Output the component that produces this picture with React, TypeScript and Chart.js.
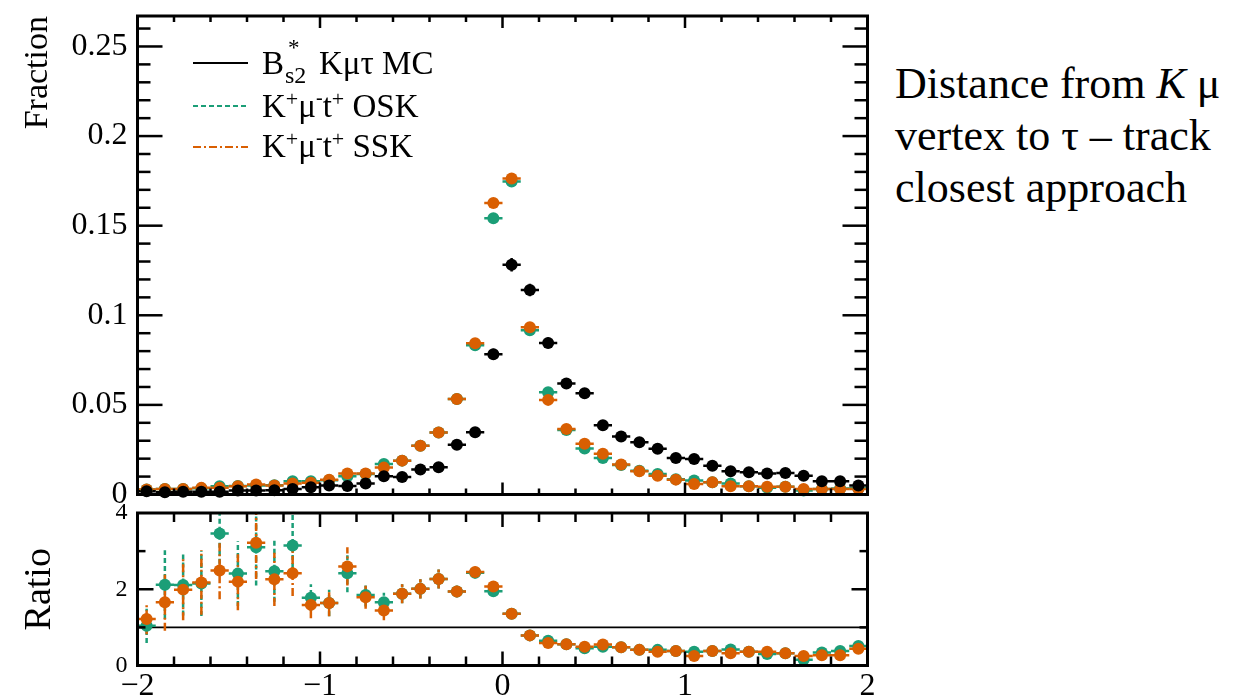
import React, { useEffect, useRef } from "react";
import { Chart, registerables } from "chart.js";

Chart.register(...registerables);

const SERIF = "'Liberation Serif', 'DejaVu Serif', serif";
const GREEN = "#1b9e77";
const ORANGE = "#d95f02";
const BLACK = "#000000";

// bin centres (bin width 0.1)
const binCenters = [
  -1.95, -1.85, -1.75, -1.65, -1.55, -1.45, -1.35, -1.25, -1.15, -1.05,
  -0.95, -0.85, -0.75, -0.65, -0.55, -0.45, -0.35, -0.25, -0.15, -0.05,
  0.05, 0.15, 0.25, 0.35, 0.45, 0.55, 0.65, 0.75, 0.85, 0.95,
  1.05, 1.15, 1.25, 1.35, 1.45, 1.55, 1.65, 1.75, 1.85, 1.95,
];
const binHalfWidth = 0.05;

// Fraction, B*s2 K mu tau MC
const fracMC = [
  0.0018, 0.0013, 0.0015, 0.0015, 0.0015, 0.0022, 0.0022, 0.0024, 0.0031, 0.0041,
  0.005, 0.0048, 0.0061, 0.0102, 0.0098, 0.0139, 0.0152, 0.0278, 0.0348, 0.0783,
  0.1282, 0.1141, 0.0846, 0.062, 0.0565, 0.0387, 0.0324, 0.0291, 0.0255, 0.0204,
  0.0198, 0.0161, 0.013, 0.0124, 0.0117, 0.012, 0.0105, 0.0074, 0.0074, 0.005,
];
const errMC = [
  0.0006, 0.0005, 0.0005, 0.0005, 0.0005, 0.0006, 0.0006, 0.0006, 0.0007, 0.0008,
  0.0009, 0.0009, 0.001, 0.0012, 0.0012, 0.0014, 0.0015, 0.002, 0.0022, 0.003,
  0.0038, 0.0035, 0.003, 0.0025, 0.0024, 0.002, 0.0018, 0.0017, 0.0016, 0.0014,
  0.0014, 0.0013, 0.0011, 0.0011, 0.0011, 0.0011, 0.001, 0.0009, 0.0009, 0.0007,
];

// Fraction, K+ mu- t+ OSK
const fracOSK = [
  0.0028, 0.0031, 0.0031, 0.0035, 0.0046, 0.0048, 0.005, 0.0052, 0.0074, 0.0074,
  0.008, 0.0102, 0.0115, 0.017, 0.0189, 0.0272, 0.0346, 0.0533, 0.0833, 0.1541,
  0.1746, 0.0917, 0.057, 0.036, 0.0256, 0.0204, 0.0165, 0.0133, 0.0115, 0.0085,
  0.0078, 0.0068, 0.0062, 0.0046, 0.0037, 0.0043, 0.0022, 0.003, 0.0033, 0.0035,
];
const errOSK = [
  0.0004, 0.0004, 0.0004, 0.0005, 0.0005, 0.0005, 0.0005, 0.0005, 0.0006, 0.0006,
  0.0006, 0.0007, 0.0008, 0.0009, 0.001, 0.0011, 0.0012, 0.0015, 0.0018, 0.0024,
  0.0025, 0.0018, 0.0014, 0.0011, 0.001, 0.0009, 0.0008, 0.0007, 0.0007, 0.0006,
  0.0006, 0.0005, 0.0005, 0.0005, 0.0004, 0.0004, 0.0003, 0.0004, 0.0004, 0.0004,
];

// Fraction, K+ mu- t+ SSK
const fracSSK = [
  0.0028, 0.0031, 0.0031, 0.0037, 0.0037, 0.0046, 0.0056, 0.005, 0.0061, 0.0065,
  0.0083, 0.0117, 0.0117, 0.015, 0.0189, 0.0272, 0.0346, 0.0533, 0.0844, 0.1626,
  0.1763, 0.0933, 0.0528, 0.0365, 0.0283, 0.0228, 0.0167, 0.013, 0.0105, 0.0083,
  0.0059, 0.0068, 0.0046, 0.0046, 0.0043, 0.0043, 0.0031, 0.003, 0.003, 0.003,
];
const errSSK = [
  0.0004, 0.0004, 0.0004, 0.0005, 0.0005, 0.0005, 0.0005, 0.0005, 0.0006, 0.0006,
  0.0007, 0.0008, 0.0008, 0.0009, 0.001, 0.0011, 0.0012, 0.0015, 0.0018, 0.0025,
  0.0026, 0.0019, 0.0014, 0.0011, 0.001, 0.0009, 0.0008, 0.0007, 0.0007, 0.0006,
  0.0005, 0.0005, 0.0005, 0.0005, 0.0004, 0.0004, 0.0004, 0.0004, 0.0004, 0.0004,
];

// Ratio panel
const ratioOSK = [
  1.04, 2.12, 2.11, 2.15, 3.46, 2.41, 3.1, 2.47, 3.15, 1.78,
  1.64, 2.42, 1.85, 1.66, 1.88, 2.01, 2.27, 1.94, 2.43, 1.95,
  1.36, 0.79, 0.65, 0.56, 0.45, 0.49, 0.48, 0.41, 0.41, 0.38,
  0.36, 0.38, 0.42, 0.36, 0.3, 0.32, 0.15, 0.34, 0.38, 0.51,
];
const ratioErrOSK = [
  0.45, 0.9, 0.8, 0.85, 1.0, 0.85, 1.0, 0.8, 0.8, 0.35,
  0.35, 0.5, 0.3, 0.25, 0.25, 0.25, 0.25, 0.15, 0.15, 0.1,
  0.05, 0.04, 0.04, 0.04, 0.04, 0.05, 0.05, 0.05, 0.05, 0.05,
  0.06, 0.06, 0.07, 0.07, 0.07, 0.08, 0.06, 0.09, 0.1, 0.12,
];
const ratioSSK = [
  1.22, 1.66, 1.99, 2.18, 2.49, 2.2, 3.22, 2.26, 2.42, 1.59,
  1.64, 2.6, 1.79, 1.44, 1.88, 2.01, 2.27, 1.94, 2.45, 2.07,
  1.36, 0.79, 0.59, 0.56, 0.49, 0.55, 0.48, 0.41, 0.36, 0.38,
  0.25, 0.38, 0.32, 0.36, 0.36, 0.32, 0.25, 0.27, 0.27, 0.44,
];
const ratioErrSSK = [
  0.4, 0.75, 0.8, 0.85, 0.75, 0.75, 0.95, 0.7, 0.6, 0.35,
  0.35, 0.5, 0.3, 0.25, 0.25, 0.25, 0.25, 0.15, 0.15, 0.1,
  0.05, 0.04, 0.04, 0.04, 0.04, 0.05, 0.05, 0.05, 0.05, 0.05,
  0.05, 0.06, 0.06, 0.07, 0.07, 0.08, 0.07, 0.08, 0.09, 0.11,
];

const ratioReference = 1;

const GREEN_DASH = [5, 3];
const ORANGE_DASH = [8, 3, 2, 3];
const MARKER_RADIUS = 6;

function toPoints(values: number[]) {
  return binCenters.map((x, i) => ({ x, y: values[i] }));
}

const errorBarPlugin = {
  id: "errorBars",
  beforeDatasetsDraw(chart: any) {
    const { ctx, chartArea: a, scales } = chart;
    const xs = scales.x;
    const ys = scales.y;
    ctx.save();
    ctx.beginPath();
    ctx.rect(a.left, a.top, a.right - a.left, a.bottom - a.top);
    ctx.clip();
    const dsets = chart.data.datasets;
    for (let d = dsets.length - 1; d >= 0; d--) {
      const ds = dsets[d];
      ctx.strokeStyle = ds.borderColor;
      ctx.lineWidth = 2.5;
      ds.data.forEach((p: any, i: number) => {
        const px = xs.getPixelForValue(p.x);
        const py = ys.getPixelForValue(p.y);
        ctx.setLineDash([]);
        ctx.beginPath();
        ctx.moveTo(xs.getPixelForValue(p.x - binHalfWidth), py);
        ctx.lineTo(xs.getPixelForValue(p.x + binHalfWidth), py);
        ctx.stroke();
        const e = ds.yErr[i];
        ctx.setLineDash(ds.errDash || []);
        ctx.beginPath();
        ctx.moveTo(px, ys.getPixelForValue(p.y - e));
        ctx.lineTo(px, ys.getPixelForValue(p.y + e));
        ctx.stroke();
      });
    }
    ctx.restore();
  },
};

const refLinePlugin = {
  id: "refLine",
  beforeDatasetsDraw(chart: any, _args: any, opts: any) {
    if (opts == null || opts.value == null) return;
    const { ctx, chartArea: a, scales } = chart;
    const py = scales.y.getPixelForValue(opts.value);
    ctx.save();
    ctx.strokeStyle = "#000";
    ctx.lineWidth = 1.8;
    ctx.beginPath();
    ctx.moveTo(a.left, py);
    ctx.lineTo(a.right, py);
    ctx.stroke();
    ctx.restore();
  },
};

function isMultiple(v: number, step: number) {
  const r = v / step;
  return Math.abs(r - Math.round(r)) < 1e-6;
}

const framePlugin = {
  id: "frame",
  afterDraw(chart: any, _args: any, o: any) {
    const { ctx, chartArea: a, scales } = chart;
    const xs = scales.x;
    const ys = scales.y;
    ctx.save();
    ctx.strokeStyle = "#000";
    ctx.lineWidth = 2.5;
    ctx.setLineDash([]);
    const line = (x1: number, y1: number, x2: number, y2: number) => {
      ctx.beginPath();
      ctx.moveTo(x1, y1);
      ctx.lineTo(x2, y2);
      ctx.stroke();
    };
    const nx = Math.round((xs.max - xs.min) / o.xMinor);
    for (let k = 1; k < nx; k++) {
      const v = xs.min + k * o.xMinor;
      const L = isMultiple(v, o.xMajor) ? o.xMajorLen : o.xMinorLen;
      const px = xs.getPixelForValue(v);
      line(px, a.bottom, px, a.bottom - L);
      line(px, a.top, px, a.top + L);
    }
    const ny = Math.floor((ys.max - ys.min) / o.yMinor + 1e-6);
    for (let k = 1; k <= ny; k++) {
      const v = ys.min + k * o.yMinor;
      if (v >= ys.max - 1e-9) continue;
      const L = isMultiple(v, o.yMajor) ? o.yMajorLen : o.yMinorLen;
      const py = ys.getPixelForValue(v);
      line(a.left, py, a.left + L, py);
      line(a.right, py, a.right - L, py);
    }
    ctx.lineWidth = 3;
    ctx.strokeRect(a.left, a.top, a.right - a.left, a.bottom - a.top);
    ctx.restore();
  },
};

const PLOT_LEFT = 137.5;
const PLOT_RIGHT_PAD = 22.5;

export default function App() {
  const mainRef = useRef<HTMLCanvasElement | null>(null);
  const ratioRef = useRef<HTMLCanvasElement | null>(null);

  useEffect(() => {
    document.body.style.margin = "0";
    const mainChart = new Chart(mainRef.current as HTMLCanvasElement, {
      type: "scatter",
      data: {
        datasets: [
          {
            label: "B*s2 Kμτ MC",
            data: toPoints(fracMC),
            backgroundColor: BLACK,
            borderColor: BLACK,
            pointRadius: MARKER_RADIUS,
            pointBorderWidth: 0,
            clip: false,
            yErr: errMC,
          } as any,
          {
            label: "K+μ-t+ SSK",
            data: toPoints(fracSSK),
            backgroundColor: ORANGE,
            borderColor: ORANGE,
            pointRadius: MARKER_RADIUS,
            pointBorderWidth: 0,
            clip: false,
            yErr: errSSK,
          } as any,
          {
            label: "K+μ-t+ OSK",
            data: toPoints(fracOSK),
            backgroundColor: GREEN,
            borderColor: GREEN,
            pointRadius: MARKER_RADIUS,
            pointBorderWidth: 0,
            clip: false,
            yErr: errOSK,
          } as any,
        ],
      },
      options: {
        responsive: false,
        animation: false,
        devicePixelRatio: 1,
        events: [],
        layout: { padding: { left: 0, right: PLOT_RIGHT_PAD, top: 36, bottom: 35.5 } },
        plugins: {
          legend: { display: false },
          tooltip: { enabled: false },
          frame: {
            xMinor: 0.2, xMajor: 1, xMajorLen: 12, xMinorLen: 6,
            yMinor: 0.01, yMajor: 0.05, yMajorLen: 25, yMinorLen: 13,
          },
        } as any,
        scales: {
          x: { type: "linear", min: -2, max: 2, display: false },
          y: {
            type: "linear",
            min: 0,
            max: 0.267,
            afterFit: (s: any) => { s.width = PLOT_LEFT; },
            grid: { display: false, drawTicks: false },
            border: { display: false },
            ticks: {
              stepSize: 0.05,
              includeBounds: false,
              padding: 10,
              color: "#000",
              font: { family: SERIF, size: 32 },
              callback: (v: any) => (Math.abs(v) < 1e-9 ? "0" : String(parseFloat(Number(v).toFixed(2)))),
            },
            title: {
              display: true,
              text: "Fraction",
              align: "end",
              color: "#000",
              font: { family: SERIF, size: 34 },
              padding: { top: 18, bottom: 0 },
            },
          },
        },
      } as any,
      plugins: [errorBarPlugin, framePlugin],
    });

    const ratioChart = new Chart(ratioRef.current as HTMLCanvasElement, {
      type: "scatter",
      data: {
        datasets: [
          {
            label: "SSK / MC",
            data: toPoints(ratioSSK),
            backgroundColor: ORANGE,
            borderColor: ORANGE,
            pointRadius: MARKER_RADIUS,
            pointBorderWidth: 0,
            clip: false,
            yErr: ratioErrSSK,
            errDash: ORANGE_DASH,
          } as any,
          {
            label: "OSK / MC",
            data: toPoints(ratioOSK),
            backgroundColor: GREEN,
            borderColor: GREEN,
            pointRadius: MARKER_RADIUS,
            pointBorderWidth: 0,
            clip: false,
            yErr: ratioErrOSK,
            errDash: GREEN_DASH,
          } as any,
        ],
      },
      options: {
        responsive: false,
        animation: false,
        devicePixelRatio: 1,
        events: [],
        layout: { padding: { left: 0, right: PLOT_RIGHT_PAD, top: 33, bottom: 0 } },
        plugins: {
          legend: { display: false },
          tooltip: { enabled: false },
          refLine: { value: ratioReference },
          frame: {
            xMinor: 0.2, xMajor: 1, xMajorLen: 14, xMinorLen: 9,
            yMinor: 1, yMajor: 2, yMajorLen: 16, yMinorLen: 8,
          },
        } as any,
        scales: {
          x: {
            type: "linear",
            min: -2,
            max: 2,
            afterFit: (s: any) => { s.height = 32.5; },
            grid: { display: false, drawTicks: false },
            border: { display: false },
            ticks: {
              stepSize: 1,
              padding: 2,
              maxRotation: 0,
              autoSkip: false,
              color: "#000",
              font: { family: SERIF, size: 32 },
              callback: (v: any) => (v < 0 ? "\u2212" + Math.abs(v) : String(v)),
            },
          },
          y: {
            type: "linear",
            min: 0,
            max: 4,
            afterFit: (s: any) => { s.width = PLOT_LEFT; },
            grid: { display: false, drawTicks: false },
            border: { display: false },
            ticks: {
              stepSize: 2,
              padding: 10,
              color: "#000",
              font: { family: SERIF, size: 24 },
            },
            title: {
              display: true,
              text: "Ratio",
              color: "#000",
              font: { family: SERIF, size: 38 },
              padding: { top: 17, bottom: 0 },
            },
          },
        },
      } as any,
      plugins: [refLinePlugin, errorBarPlugin, framePlugin],
    });

    return () => {
      mainChart.destroy();
      ratioChart.destroy();
    };
  }, []);

  const legendText: React.CSSProperties = {
    position: "absolute",
    left: 262,
    fontFamily: SERIF,
    fontSize: 33,
    lineHeight: "38px",
    height: 38,
    whiteSpace: "nowrap",
    color: "#000",
  };
  const sup: React.CSSProperties = { fontSize: 22, position: "relative", top: -11 };
  const supSmall: React.CSSProperties = { fontSize: 20, position: "relative", top: -13 };

  return (
    <div
      style={{
        position: "absolute",
        left: 0,
        top: 0,
        width: 1234,
        height: 698,
        overflow: "hidden",
        background: "#fff",
        fontFamily: SERIF,
      }}
    >
      <canvas ref={mainRef} width={890} height={550} style={{ position: "absolute", left: 0, top: -20 }} />
      <canvas ref={ratioRef} width={890} height={218} style={{ position: "absolute", left: 0, top: 480 }} />

      <svg width={70} height={170} style={{ position: "absolute", left: 190, top: 0 }}>
        <line x1={3} y1={63} x2={58} y2={63} stroke={BLACK} strokeWidth={2.2} />
        <line x1={3} y1={106} x2={58} y2={106} stroke={GREEN} strokeWidth={2.2} strokeDasharray="5 3" />
        <line x1={3} y1={147} x2={58} y2={147} stroke={ORANGE} strokeWidth={2.2} strokeDasharray="8 3 2 3" />
      </svg>

      <div style={{ ...legendText, top: 44 }}>
        <span>B</span>
        <span style={{ position: "relative", display: "inline-block", width: 35, height: 10 }}>
          <span style={{ position: "absolute", left: 4, top: -28, fontSize: 23, lineHeight: "24px" }}>*</span>
          <span style={{ position: "absolute", left: 1, top: -1, fontSize: 24, lineHeight: "24px" }}>s2</span>
        </span>
        <span>Kμτ MC</span>
      </div>
      <div style={{ ...legendText, top: 87 }}>
        K<span style={sup}>+</span>μ<span style={supSmall}>-</span>t<span style={sup}>+</span> OSK
      </div>
      <div style={{ ...legendText, top: 127 }}>
        K<span style={sup}>+</span>μ<span style={supSmall}>-</span>t<span style={sup}>+</span> SSK
      </div>

      <div
        style={{
          position: "absolute",
          left: 895,
          top: 58,
          fontFamily: SERIF,
          fontSize: 44,
          lineHeight: "52px",
          color: "#000",
          whiteSpace: "nowrap",
        }}
      >
        <div>
          Distance from <i>K</i> μ
        </div>
        <div>vertex to τ – track</div>
        <div>closest approach</div>
      </div>
    </div>
  );
}
